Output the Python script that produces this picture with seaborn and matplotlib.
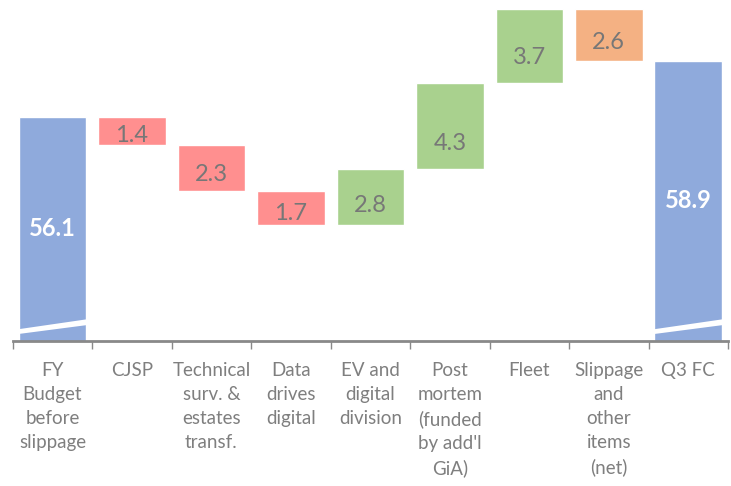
import numpy as np
import pandas as pd
import seaborn as sns
import matplotlib.pyplot as plt
from matplotlib.patches import Polygon

# data
categories = ["FY\nBudget\nbefore\nslippage", "CJSP", "Technical\nsurv. &\nestates\ntransf.",
              "Data\ndrives\ndigital", "EV and\ndigital\ndivision", "Post\nmortem\n(funded\nby add'l\nGiA)",
              "Fleet", "Slippage\nand\nother\nitems\n(net)", "Q3 FC"]
start_total = 56.1
changes = [-1.4, -2.3, -1.7, 2.8, 4.3, 3.7, -2.6]
end_total = 58.9
step_colors = ["#FF8F8F", "#FF8F8F", "#FF8F8F", "#A9D18E", "#A9D18E", "#A9D18E", "#F4B183"]
total_color = "#8FAADC"

# axis break: y axis starts well above zero
y_min, y_max = 44.9, 61.95

# build waterfall tops/bottoms
tops, bottoms, labels, colors = [start_total], [0.0], ["56.1"], [total_color]
running = start_total
for c, col in zip(changes, step_colors):
    new = running + c
    tops.append(max(running, new))
    bottoms.append(min(running, new))
    labels.append(f"{abs(c):.1f}")
    colors.append(col)
    running = new
tops.append(end_total)
bottoms.append(0.0)
labels.append("58.9")
colors.append(total_color)

df = pd.DataFrame({"cat": categories, "top": tops, "bottom": bottoms})

sns.set_theme(style="white")
plt.rcParams['font.family'] = ['Lato', 'DejaVu Sans']

fig = plt.figure(figsize=(7.31, 4.86), dpi=100)
ax = fig.add_axes([0.0174, 0.2984, 0.9785, 0.7016])

sns.barplot(data=df, x="cat", y="top", hue="cat", palette=colors, legend=False,
            width=0.85, saturation=1, ax=ax)
sns.barplot(data=df, x="cat", y="bottom", color="white", width=0.87,
            saturation=1, ax=ax)

ax.set_ylim(y_min, y_max)
ax.set_xlim(-0.5, len(categories) - 0.5)

# white slash on the two total bars
for i in (0, len(categories) - 1):
    x0, x1 = i - 0.425, i + 0.425
    slash = Polygon([(x0, 45.25), (x1, 45.69), (x1, 45.98), (x0, 45.49)],
                    closed=True, facecolor="white", edgecolor="none", zorder=5)
    ax.add_patch(slash)

# value labels
gray = "#7F7F7F"
for i, (t, b, lab) in enumerate(zip(tops, bottoms, labels)):
    if i in (0, len(categories) - 1):
        ax.text(i, (y_min + t) / 2, lab, ha="center", va="center", fontsize=17,
                fontweight="bold", color="white", zorder=6)
    else:
        h = t - b
        ax.text(i, b + min(1.25, h * 0.35), lab, ha="center", va="center",
                fontsize=17, color="#777777", zorder=6)

# axes styling
for s in ["top", "right", "left"]:
    ax.spines[s].set_visible(False)
ax.spines["bottom"].set_color("#898989")
ax.spines["bottom"].set_linewidth(2)
ax.spines["bottom"].set_zorder(7)
ax.set_yticks([])
ax.set_xlabel("")
ax.set_ylabel("")
ax.set_xticks(np.arange(len(categories)))
ax.set_xticklabels(categories, fontsize=13.5, color=gray, va="top", linespacing=1.5)
ax.set_xticks(np.arange(len(categories) + 1) - 0.5, minor=True)
ax.tick_params(axis="x", which="major", length=0, pad=15)
ax.tick_params(axis="x", which="minor", length=6, width=1, color="#898989",
               direction="out", bottom=True)

fig.savefig("out.png", dpi=100)
